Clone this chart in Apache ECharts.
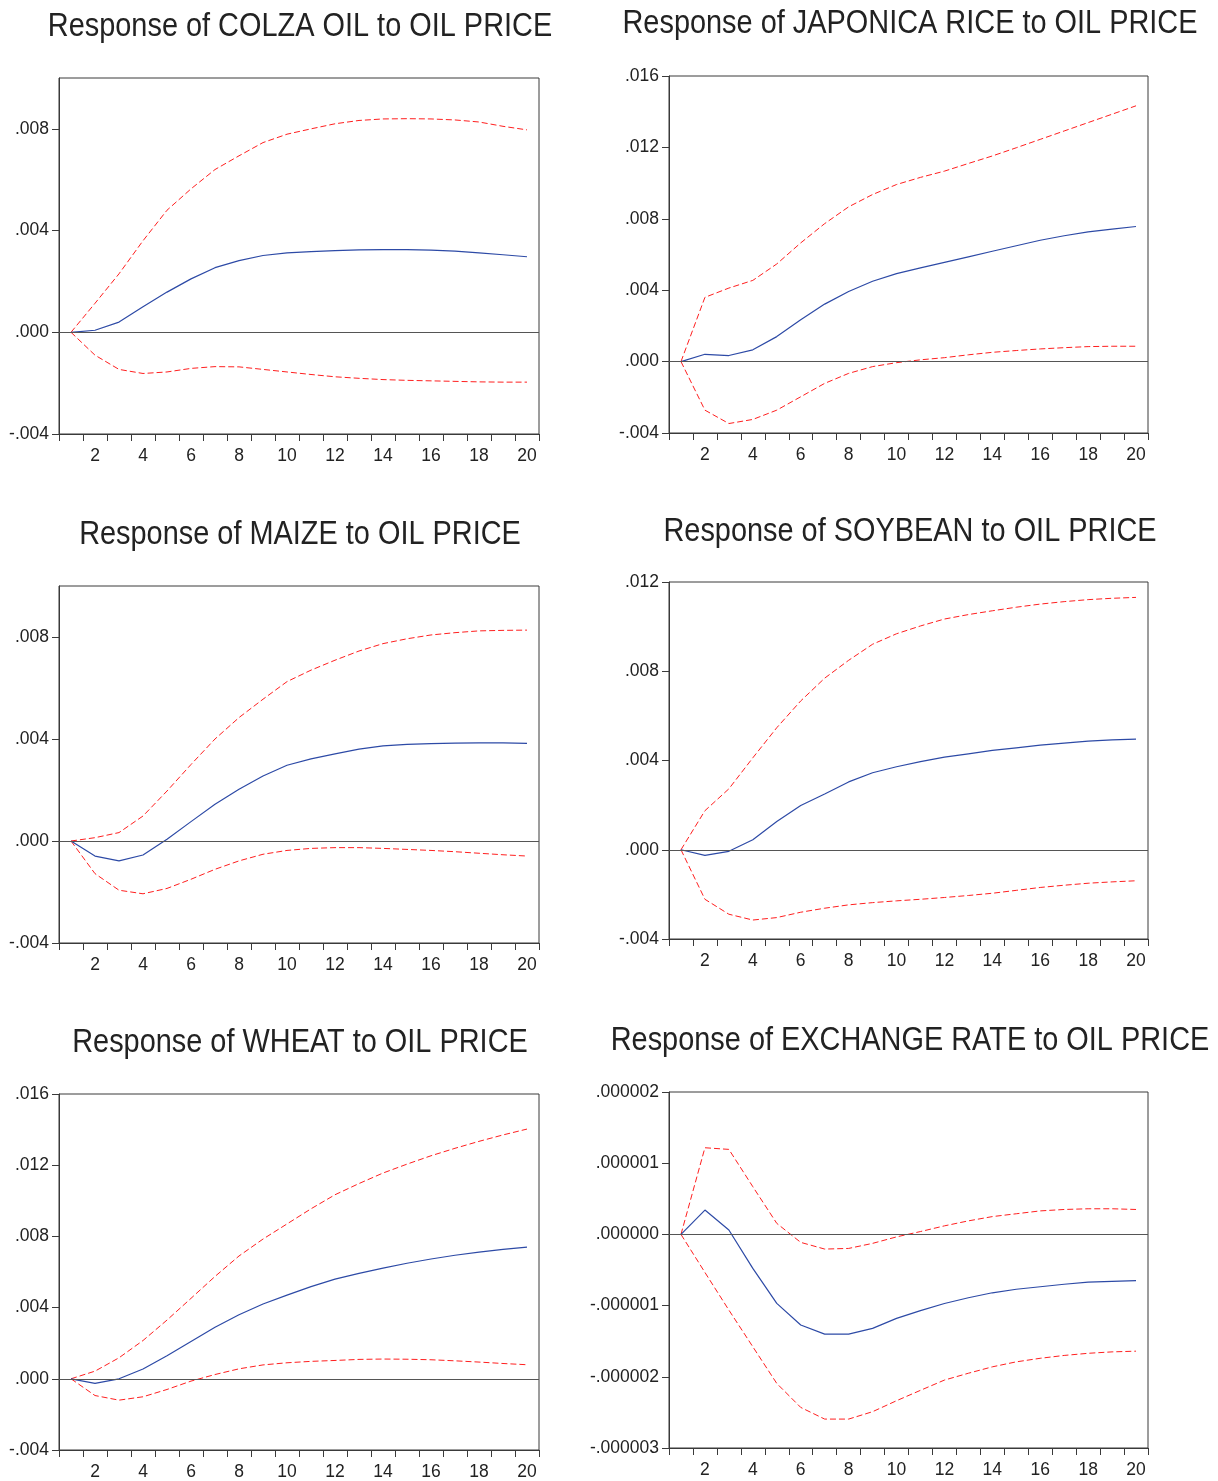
<!DOCTYPE html>
<html>
<head>
<meta charset="utf-8">
<script src="https://cdn.jsdelivr.net/npm/echarts@6/dist/echarts.min.js"></script>
<style>
html,body{margin:0;padding:0;background:#fff;}
#chart{width:1218px;height:1481px;}
</style>
</head>
<body>
<div id="chart"></div>
<script>
const periods = ['1','2','3','4','5','6','7','8','9','10','11','12','13','14','15','16','17','18','19','20'];

const titles = [
  'Response of COLZA OIL to OIL PRICE',
  'Response of JAPONICA RICE to OIL PRICE',
  'Response of MAIZE to OIL PRICE',
  'Response of SOYBEAN to OIL PRICE',
  'Response of WHEAT to OIL PRICE',
  'Response of EXCHANGE RATE to OIL PRICE'
];

// COLZA OIL
const colzaResp  = [0, 0.00008, 0.0004, 0.001, 0.00158, 0.0021, 0.00254, 0.00282, 0.00302, 0.00312, 0.00317, 0.00321, 0.00324, 0.00325, 0.00325, 0.00323, 0.00319, 0.00312, 0.00305, 0.00297];
const colzaUpper = [0, 0.00114, 0.0023, 0.0036, 0.0048, 0.00564, 0.0064, 0.00694, 0.00746, 0.00779, 0.0080, 0.0082, 0.00833, 0.00839, 0.0084, 0.00839, 0.00835, 0.00827, 0.0081, 0.00796];
const colzaLower = [0, -0.0009, -0.00146, -0.00162, -0.00156, -0.00142, -0.00135, -0.00136, -0.00146, -0.00156, -0.00166, -0.00175, -0.00181, -0.00186, -0.00189, -0.00191, -0.00193, -0.00195, -0.00196, -0.00196];

// JAPONICA RICE
const riceResp  = [0, 0.00041, 0.00034, 0.00066, 0.0014, 0.00234, 0.00322, 0.00393, 0.0045, 0.00493, 0.00525, 0.00556, 0.00587, 0.00618, 0.00649, 0.0068, 0.00705, 0.00727, 0.00742, 0.00757];
const riceUpper = [0, 0.0036, 0.00412, 0.00455, 0.00547, 0.00665, 0.00773, 0.00867, 0.00936, 0.00992, 0.01032, 0.01067, 0.0111, 0.01152, 0.01198, 0.01245, 0.01292, 0.01339, 0.01386, 0.01433];
const riceLower = [0, -0.00272, -0.00347, -0.00324, -0.00272, -0.00197, -0.00122, -0.00066, -0.00028, -0.00006, 0.0001, 0.00022, 0.00038, 0.00052, 0.00062, 0.00071, 0.00078, 0.00084, 0.00086, 0.00086];

// MAIZE
const maizeResp  = [0, -0.00059, -0.00078, -0.00055, 0.00007, 0.00076, 0.00144, 0.00203, 0.00255, 0.00297, 0.00322, 0.00342, 0.0036, 0.00373, 0.00379, 0.00382, 0.00384, 0.00385, 0.00385, 0.00383];
const maizeUpper = [0, 0.00013, 0.00033, 0.00098, 0.00196, 0.003, 0.004, 0.00484, 0.00556, 0.00625, 0.0067, 0.00709, 0.00745, 0.00774, 0.00793, 0.00808, 0.00817, 0.00824, 0.00826, 0.00827];
const maizeLower = [0, -0.00128, -0.00193, -0.00207, -0.00186, -0.0015, -0.00111, -0.00078, -0.00052, -0.00037, -0.00029, -0.00026, -0.00026, -0.00029, -0.00033, -0.00037, -0.00042, -0.00048, -0.00054, -0.00059];

// SOYBEAN
const soyResp  = [0, -0.00025, -0.00007, 0.00045, 0.00127, 0.00198, 0.0025, 0.00304, 0.00345, 0.00372, 0.00395, 0.00415, 0.0043, 0.00445, 0.00457, 0.00469, 0.00478, 0.00487, 0.00492, 0.00496];
const soyUpper = [0, 0.00175, 0.00273, 0.00412, 0.00547, 0.00667, 0.00769, 0.00849, 0.00921, 0.00968, 0.01003, 0.01034, 0.01054, 0.01071, 0.01087, 0.01101, 0.01112, 0.01121, 0.01127, 0.01131];
const soyLower = [0, -0.00222, -0.00289, -0.00315, -0.00304, -0.0028, -0.00262, -0.00247, -0.00237, -0.00229, -0.00222, -0.00214, -0.00205, -0.00195, -0.00182, -0.00169, -0.00159, -0.0015, -0.00144, -0.00139];

// WHEAT
const wheatResp  = [0, -0.00026, 0, 0.00055, 0.0013, 0.0021, 0.0029, 0.0036, 0.0042, 0.0047, 0.00518, 0.0056, 0.00592, 0.00622, 0.00649, 0.00673, 0.00694, 0.00712, 0.00727, 0.0074];
const wheatUpper = [0, 0.00043, 0.00118, 0.00215, 0.0033, 0.00452, 0.00575, 0.0069, 0.00785, 0.0087, 0.00955, 0.01034, 0.01097, 0.01156, 0.01206, 0.01253, 0.01295, 0.01334, 0.0137, 0.01403];
const wheatLower = [0, -0.00094, -0.0012, -0.00101, -0.0006, -0.00013, 0.00024, 0.00056, 0.00078, 0.0009, 0.00098, 0.00103, 0.00109, 0.00111, 0.0011, 0.00107, 0.00101, 0.00094, 0.00086, 0.00079];

// EXCHANGE RATE
const fxResp  = [0, 0.342e-6, 0.061e-6, -0.478e-6, -0.969e-6, -1.273e-6, -1.40e-6, -1.40e-6, -1.32e-6, -1.18e-6, -1.07e-6, -0.97e-6, -0.89e-6, -0.82e-6, -0.77e-6, -0.735e-6, -0.70e-6, -0.67e-6, -0.66e-6, -0.65e-6];
const fxUpper = [0, 1.217e-6, 1.194e-6, 0.67e-6, 0.155e-6, -0.112e-6, -0.206e-6, -0.197e-6, -0.126e-6, -0.035e-6, 0.04e-6, 0.12e-6, 0.19e-6, 0.25e-6, 0.29e-6, 0.33e-6, 0.35e-6, 0.36e-6, 0.36e-6, 0.35e-6];
const fxLower = [0, -0.534e-6, -1.063e-6, -1.578e-6, -2.093e-6, -2.43e-6, -2.594e-6, -2.594e-6, -2.49e-6, -2.336e-6, -2.19e-6, -2.046e-6, -1.95e-6, -1.86e-6, -1.79e-6, -1.74e-6, -1.70e-6, -1.67e-6, -1.65e-6, -1.64e-6];

// y tick labels
const ticksA = [-0.004, 0, 0.004, 0.008];
const ticksB = [-0.004, 0, 0.004, 0.008, 0.012, 0.016];
const ticksC = [-0.004, 0, 0.004, 0.008, 0.012];
const ticksFx = [-0.000003, -0.000002, -0.000001, 0, 0.000001, 0.000002];

const FONT = "'Liberation Sans', Arial, sans-serif";
const AXIS = '#3a3a3a';
const TEXT = '#222';
const BLUE = '#2d4aa6';
const RED = '#ff1f1f';

const panels = [
  {title: titles[0], resp: colzaResp, up: colzaUpper, lo: colzaLower, min: -0.004, max: 0.010, step: 0.004, ticks: ticksA, dec: 3,
   grid: {left: 59, top: 78, width: 480, height: 356}, tx: 300, ty: 27},
  {title: titles[1], resp: riceResp, up: riceUpper, lo: riceLower, min: -0.004, max: 0.016, step: 0.004, ticks: ticksB, dec: 3,
   grid: {left: 669, top: 76, width: 479, height: 357}, tx: 910, ty: 24},
  {title: titles[2], resp: maizeResp, up: maizeUpper, lo: maizeLower, min: -0.004, max: 0.010, step: 0.004, ticks: ticksA, dec: 3,
   grid: {left: 59, top: 586, width: 480, height: 357}, tx: 300, ty: 535},
  {title: titles[3], resp: soyResp, up: soyUpper, lo: soyLower, min: -0.004, max: 0.012, step: 0.004, ticks: ticksC, dec: 3,
   grid: {left: 669, top: 582, width: 479, height: 357}, tx: 910, ty: 532},
  {title: titles[4], resp: wheatResp, up: wheatUpper, lo: wheatLower, min: -0.004, max: 0.016, step: 0.004, ticks: ticksB, dec: 3,
   grid: {left: 59, top: 1094, width: 480, height: 357}, tx: 300, ty: 1043},
  {title: titles[5], resp: fxResp, up: fxUpper, lo: fxLower, min: -0.000003, max: 0.000002, step: 0.000001, ticks: ticksFx, dec: 6,
   grid: {left: 669, top: 1092, width: 479, height: 356}, tx: 910, ty: 1041}
];

function fmt(dec) {
  return function (v) {
    let s = Number(v).toFixed(dec);
    if (/^-?0\.0+$/.test(s)) s = s.replace('-', '');
    return s.replace(/^(-?)0\./, '$1.');
  };
}

const option = {
  animation: false,
  backgroundColor: '#fff',
  graphic: [], grid: [], xAxis: [], yAxis: [], series: []
};

panels.forEach((p, i) => {
  option.graphic.push({
    type: 'text', x: p.tx, y: p.ty, scaleX: 0.85, silent: true,
    style: {text: p.title, x: 0, y: 0, fontFamily: FONT, fontSize: 34, fill: TEXT,
      align: 'center', verticalAlign: 'middle', textAlign: 'center', textVerticalAlign: 'middle'}
  });
  option.grid.push(Object.assign({show: true, borderColor: AXIS, borderWidth: 1, backgroundColor: 'transparent', containLabel: false}, p.grid));
  option.xAxis.push({
    type: 'category', gridIndex: i, data: periods, boundaryGap: true,
    axisLine: {show: true, onZero: false, lineStyle: {color: AXIS, width: 1}},
    axisTick: {show: true, interval: 0, length: 7, inside: false, lineStyle: {color: AXIS, width: 1}},
    axisLabel: {interval: function (idx) { return idx % 2 === 1; }, fontFamily: FONT, fontSize: 17.5, color: TEXT, margin: 13},
    splitLine: {show: false}
  });
  option.yAxis.push({
    type: 'value', gridIndex: i, min: p.min, max: p.max, interval: p.step,
    axisLine: {show: true, lineStyle: {color: AXIS, width: 1}},
    axisTick: {show: true, length: 7, inside: false, lineStyle: {color: AXIS, width: 1}, customValues: p.ticks},
    axisLabel: {fontFamily: FONT, fontSize: 17.5, color: TEXT, margin: 10, customValues: p.ticks, formatter: fmt(p.dec)},
    splitLine: {show: false}
  });
  option.series.push({
    type: 'line', xAxisIndex: i, yAxisIndex: i, data: p.lo, symbol: 'none', silent: true,
    lineStyle: {color: RED, width: 1, type: [6, 3]},
    markLine: {silent: true, symbol: ['none', 'none'], label: {show: false},
      lineStyle: {color: '#555', width: 1, type: 'solid'}, data: [{yAxis: 0}], animation: false},
    z: 2
  });
  option.series.push({
    type: 'line', xAxisIndex: i, yAxisIndex: i, data: p.up, symbol: 'none', silent: true,
    lineStyle: {color: RED, width: 1, type: [6, 3]}, z: 3
  });
  option.series.push({
    type: 'line', xAxisIndex: i, yAxisIndex: i, data: p.resp, symbol: 'none', silent: true,
    lineStyle: {color: BLUE, width: 1.2}, z: 4
  });
});

const chart = echarts.init(document.getElementById('chart'), null, {renderer: 'canvas'});
chart.setOption(option);
</script>
</body>
</html>
